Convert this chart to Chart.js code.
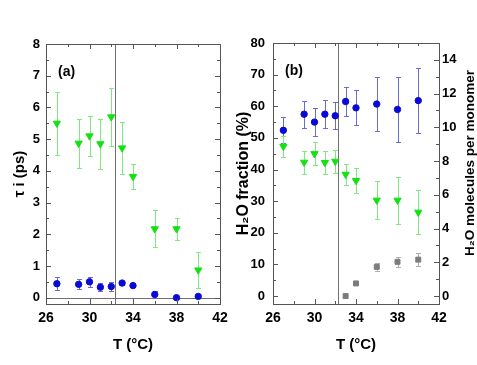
<!DOCTYPE html>
<html>
<head>
<meta charset="utf-8">
<script src="https://cdn.jsdelivr.net/npm/chart.js@4"></script>
<style>
  body { margin: 0; background: #fff; }
  #wa { position: absolute; left: 0; top: 0; width: 240px; height: 365px; }
  #wb { position: absolute; left: 230px; top: 0; width: 247px; height: 365px; }
</style>
</head>
<body>
<div id="wa"><canvas id="chartA"></canvas></div>
<div id="wb"><canvas id="chartB"></canvas></div>
<script>
// temperatures (°C)
const temps = [27, 29, 30, 31, 32, 33, 34, 36, 38, 40];
const molTemps = [33, 34, 36, 38, 40];
const transitionT = 32.3;

// panel (a): tau_i (ps)
const tauGreen = [5.5, 4.87, 5.1, 4.85, 5.7, 4.72, 3.82, 2.17, 2.17, 0.87];
const tauGreenErr = [1.0, 0.77, 0.63, 0.8, 0.92, 0.82, 0.4, 0.58, 0.35, 0.56];
const tauBlue = [0.44, 0.42, 0.5, 0.33, 0.35, 0.46, 0.38, 0.1, 0.0, 0.04];
const tauBlueErr = [0.21, 0.16, 0.15, 0.13, 0.15, 0.07, 0.05, 0.1, 0, 0];

// panel (b): H2O fraction (%) and molecules per monomer
const fracBlue = [52.4, 57.5, 55, 57.5, 57, 61.5, 59.5, 60.7, 59, 61.8];
const fracBlueErr = [4.1, 4.3, 4.4, 4.5, 4.3, 4.5, 5.5, 8.5, 10.2, 10.3];
const fracGreen = [47.3, 42.3, 45, 42.2, 42.6, 38.5, 36.5, 30.3, 30.3, 26.5];
const fracGreenErr = [3.4, 3.6, 3.7, 3.7, 3.6, 3.3, 4, 6, 7.4, 6.9];
const molGray = [0, 0.75, 1.73, 2.03, 2.16];
const molGrayErr = [0, 0.1, 0.24, 0.28, 0.38];

const GREEN = '#14e014', GREEN_ERR = '#7fe87f';
const BLUE = '#0a0ad8', BLUE_ERR = '#6b6bcc';
const GRAY = '#7c7c7c', GRAY_ERR = '#b0b0b0';

Chart.defaults.color = '#000';
Chart.defaults.font.family = "'Liberation Sans', Arial, sans-serif";

const pts = (xs, ys) => xs.map((x, i) => ({ x: x, y: ys[i] }));
const isMult = (v, s) => Math.abs(v / s - Math.round(v / s)) < 1e-6;

const panelPlugin = {
  id: 'panel',
  beforeDatasetsDraw(chart, args, opts) {
    const ctx = chart.ctx, a = chart.chartArea;
    const xs = chart.scales.x, ys = chart.scales.y;
    ctx.save();
    ctx.strokeStyle = '#707070';
    ctx.lineWidth = 1;
    ctx.beginPath();
    const xv = Math.round(xs.getPixelForValue(transitionT)) + 0.5;
    ctx.moveTo(xv, a.top); ctx.lineTo(xv, a.bottom);
    if (opts.zeroLine) {
      const y0 = Math.round(ys.getPixelForValue(0)) + 0.5;
      ctx.moveTo(a.left, y0); ctx.lineTo(a.right, y0);
    }
    ctx.stroke();
    // error bars
    chart.data.datasets.forEach(ds => {
      const yScale = chart.scales[ds.yAxisID || 'y'];
      ctx.strokeStyle = ds.errorColor;
      ds.data.forEach((p, j) => {
        const e = ds.errors[j];
        if (!e) return;
        const px = Math.round(xs.getPixelForValue(p.x)) + 0.5;
        const top = Math.round(yScale.getPixelForValue(p.y + e)) + 0.5;
        const bot = Math.round(yScale.getPixelForValue(p.y - e)) + 0.5;
        ctx.beginPath();
        ctx.moveTo(px, top); ctx.lineTo(px, bot);
        ctx.moveTo(px - 2.5, top); ctx.lineTo(px + 2.5, top);
        ctx.moveTo(px - 2.5, bot); ctx.lineTo(px + 2.5, bot);
        ctx.stroke();
      });
    });
    ctx.restore();
  },
  afterDraw(chart, args, opts) {
    const ctx = chart.ctx, a = chart.chartArea;
    ctx.save();
    ctx.strokeStyle = '#555';
    ctx.lineWidth = 1;
    ctx.strokeRect(Math.round(a.left) + 0.5, Math.round(a.top) + 0.5,
      Math.round(a.right - a.left), Math.round(a.bottom - a.top));
    // inward ticks
    ctx.beginPath();
    Object.values(chart.scales).forEach(sc => {
      const step = sc.options.ticks.stepSize;
      sc.ticks.forEach(t => {
        if (!isMult(t.value - (sc.id === 'x' ? 26 : 0), step)) return;
        const len = t.label !== '' ? 5 : 3;
        const p = Math.round(sc.getPixelForValue(t.value)) + 0.5;
        if (sc.id === 'x') {
          ctx.moveTo(p, a.bottom); ctx.lineTo(p, a.bottom - len);
          ctx.moveTo(p, a.top); ctx.lineTo(p, a.top + len);
        } else if (sc.id === 'y') {
          ctx.moveTo(a.left, p); ctx.lineTo(a.left + len, p);
          if (!chart.scales.y1) { ctx.moveTo(a.right, p); ctx.lineTo(a.right - len, p); }
        } else {
          ctx.moveTo(a.right, p); ctx.lineTo(a.right - len, p);
        }
      });
    });
    ctx.stroke();
    // panel label
    ctx.fillStyle = '#000';
    ctx.font = "bold 14px 'Liberation Sans', Arial, sans-serif";
    ctx.textAlign = 'left';
    ctx.textBaseline = 'middle';
    ctx.fillText(opts.label, a.left + opts.labelDx, a.top + 28);
    if (opts.rightTitle) {
      ctx.translate(opts.rightTitleX, opts.rightTitleY);
      ctx.rotate(-Math.PI / 2);
      ctx.textAlign = 'center';
      ctx.font = "bold 13.5px 'Liberation Sans', Arial, sans-serif";
      ctx.fillText(opts.rightTitle, 0, 0);
    }
    ctx.restore();
  }
};

function xAxis() {
  return {
    type: 'linear', min: 26, max: 42,
    grid: { display: false, drawTicks: false },
    border: { display: false },
    ticks: {
      stepSize: 2, autoSkip: false, maxRotation: 0, padding: 6, includeBounds: false,
      font: { size: 14, weight: 'bold' },
      callback: v => isMult(v - 26, 4) ? String(v) : ''
    },
    title: { display: true, text: 'T (°C)', font: { size: 15, weight: 'bold' }, padding: { top: 5, bottom: 0 } },
    afterFit: s => { s.height = 50; }
  };
}

function yAxis(min, max, step, major, width, pad, pos, title, titleSize, titlePad) {
  return {
    type: 'linear', position: pos, min: min, max: max,
    grid: { display: false, drawTicks: false },
    border: { display: false },
    ticks: {
      stepSize: step, autoSkip: false, padding: pad, includeBounds: false,
      font: { size: 13, weight: 'bold' },
      callback: v => isMult(v, major) ? String(v) : ''
    },
    title: { display: !!title, text: title || '', font: { size: titleSize, weight: 'bold' }, padding: { top: titlePad, bottom: 0 } },
    afterFit: s => { s.width = width; }
  };
}

const common = {
  animation: false,
  responsive: true,
  maintainAspectRatio: false,
  events: [],
  plugins: { legend: { display: false }, tooltip: { enabled: false } }
};

new Chart('chartA', {
  type: 'scatter',
  data: {
    datasets: [
      { data: pts(temps, tauGreen), errors: tauGreenErr, errorColor: GREEN_ERR,
        pointStyle: 'triangle', rotation: 180, pointRadius: 4.2,
        backgroundColor: GREEN, borderColor: GREEN, borderWidth: 1 },
      { data: pts(temps, tauBlue), errors: tauBlueErr, errorColor: BLUE_ERR,
        pointStyle: 'circle', pointRadius: 3.2,
        backgroundColor: BLUE, borderColor: BLUE, borderWidth: 1 }
    ]
  },
  options: Object.assign({}, common, {
    layout: { padding: { top: 44, right: 20, bottom: 11, left: 0 } },
    scales: {
      x: xAxis(),
      y: yAxis(-0.2, 8, 0.5, 1, 46, 6, 'left', 'τ i (ps)', 15, 11)
    },
    plugins: Object.assign({}, common.plugins, {
      panel: { label: '(a)', labelDx: 12, zeroLine: true }
    })
  }),
  plugins: [panelPlugin]
});

new Chart('chartB', {
  type: 'scatter',
  data: {
    datasets: [
      { data: pts(temps, fracBlue), errors: fracBlueErr, errorColor: BLUE_ERR,
        pointStyle: 'circle', pointRadius: 3.2,
        backgroundColor: BLUE, borderColor: BLUE, borderWidth: 1 },
      { data: pts(temps, fracGreen), errors: fracGreenErr, errorColor: GREEN_ERR,
        pointStyle: 'triangle', rotation: 180, pointRadius: 4.2,
        backgroundColor: GREEN, borderColor: GREEN, borderWidth: 1 },
      { data: pts(molTemps, molGray), errors: molGrayErr, errorColor: GRAY_ERR, yAxisID: 'y1',
        pointStyle: 'rect', pointRadius: 3.5,
        backgroundColor: GRAY, borderColor: GRAY, borderWidth: 1 }
    ]
  },
  options: Object.assign({}, common, {
    layout: { padding: { top: 43, right: 0, bottom: 11, left: 0 } },
    scales: {
      x: xAxis(),
      y: yAxis(-2.5, 80, 5, 10, 43, 8, 'left', 'H₂O fraction (%)', 16, 4),
      y1: yAxis(-0.47, 15, 1, 2, 38, 3, 'right', '', 15, 0)
    },
    plugins: Object.assign({}, common.plugins, {
      panel: { label: '(b)', labelDx: 12, zeroLine: false,
               rightTitle: 'H₂O molecules per monomer', rightTitleX: 240, rightTitleY: 163 }
    })
  }),
  plugins: [panelPlugin]
});
</script>
</body>
</html>
